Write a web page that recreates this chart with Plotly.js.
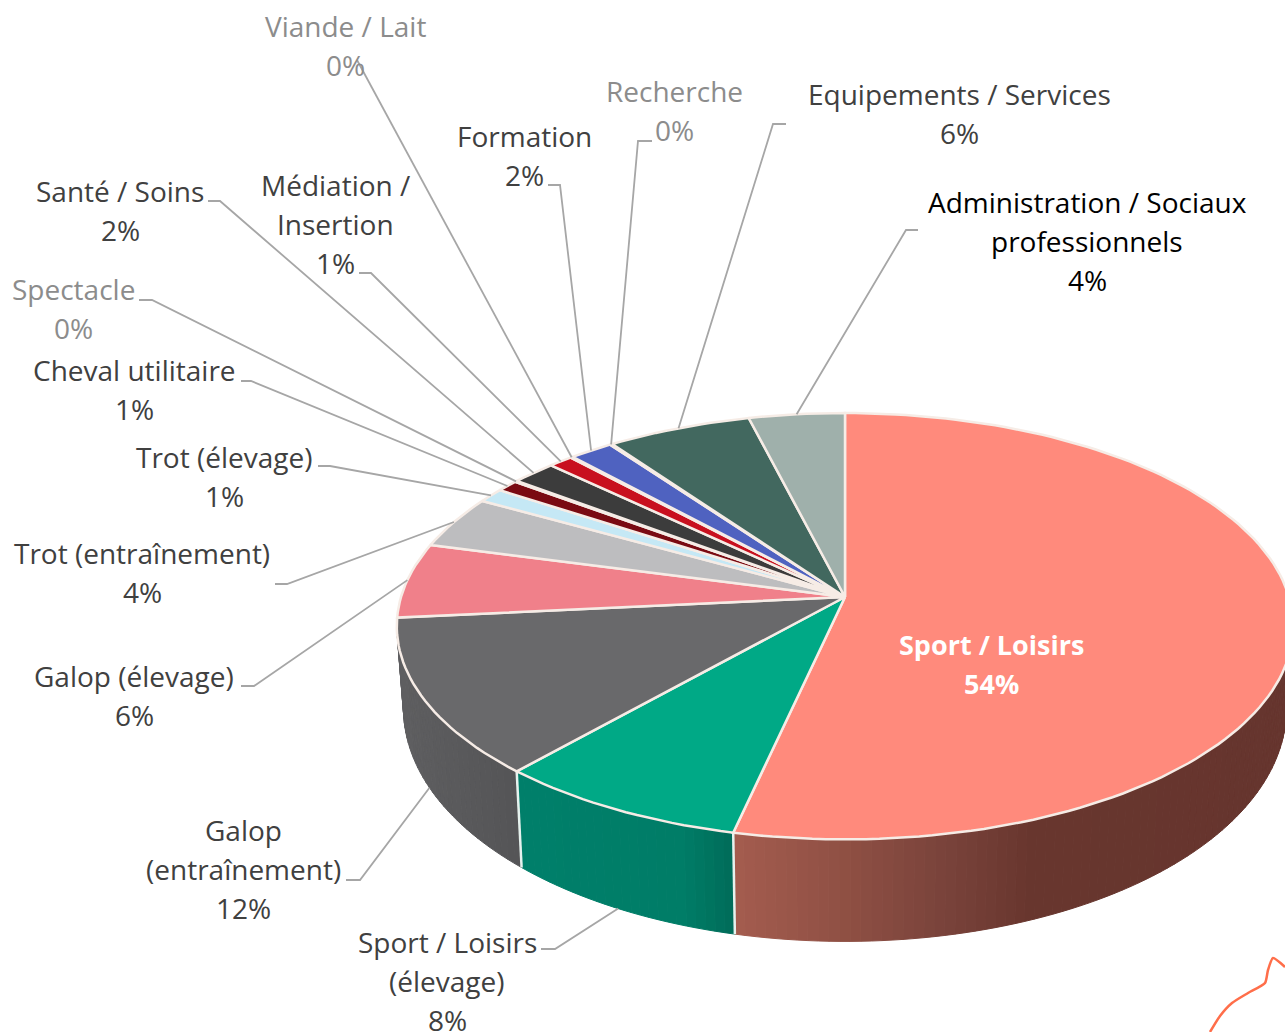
<!DOCTYPE html>
<html><head><meta charset="utf-8">
<script src="https://cdn.plot.ly/plotly-3.0.0.min.js"></script>
<style>html,body{margin:0;padding:0;background:#fff;overflow:hidden}#c{width:1285px;height:1032px}</style>
</head><body><div id="c"></div>
<script>
// ---- data (clockwise from 12 o'clock) ----
const categories = ["Sport / Loisirs","Sport / Loisirs (élevage)","Galop (entraînement)","Galop (élevage)","Trot (entraînement)","Trot (élevage)","Cheval utilitaire","Spectacle","Santé / Soins","Médiation / Insertion","Viande / Lait","Formation","Recherche","Equipements / Services","Administration / Sociaux professionnels"];
const values = [53.5,8.05,11.9,5.7,4.0,1.1,0.9,0.1,1.85,1.0,0.1,1.8,0.1,5.95,3.95];
const topColors = ["#ff8a7c","#00a986","#69696b","#f0808a","#bdbdbf","#c5e8f5","#7a0a12","#8c8c8c","#3c3c3c","#c8101e","#8c8c8c","#4f62c0","#8c8c8c","#42685f","#9fb0ab"];
const textColors = ["#ffffff","#404040","#404040","#404040","#404040","#404040","#404040","#8c8c8c","#404040","#404040","#8c8c8c","#404040","#8c8c8c","#404040","#000000"];
const wrappedNames = [["Sport / Loisirs"],["Sport / Loisirs","(élevage)"],["Galop","(entraînement)"],["Galop (élevage)"],["Trot (entraînement)"],["Trot (élevage)"],["Cheval utilitaire"],["Spectacle"],["Santé / Soins"],["Médiation /","Insertion"],["Viande / Lait"],["Formation"],["Recherche"],["Equipements / Services"],["Administration / Sociaux","professionnels"]];

// ---- layout settings (pixel-space axes) ----
const labelX = [991,447,243,134,142,224,134,73,120,335,345,524,674,959,1087];
const labelY = [644,942,830,676,553,457,370,289,191,185,26,136,91,94,202];
const labelStep = 39;
const leaderStart = [null,[541,949],[346,880],[241,686],[275,584],[318,466],[241,381],[139,300],[208,201],[359,273],[357,60],[548,185],[652,141],[786,124],[918,230]];
const leaderKnee  = [null,[555,949],[360,880],[254,686],[287,584],[330,466],[251,381],[152,300],[220,201],[371,273],null,[560,185],[638,141],[773,124],[906,230]];
const leaderOnSide = [false,true,true,false,false,false,false,false,false,false,false,false,false,false,false];
const sideStops = {
  0:[[735,"#a45c4e"],[850,"#8e4f43"],[950,"#78423a"],[1030,"#68362e"],[1285,"#66352e"]],
  1:[[523,"#007f6a"],[680,"#007d67"],[735,"#006b58"]],
  2:[[400,"#5e5e60"],[520,"#545456"]]
};
const accentCurve = {x:[1210,1220,1232,1248,1265,1268,1273,1285], y:[1032,1016,1003,993,983,970,958,967]};

// ---- geometry: projective disc ----
const cx=845, cy=597, a=209.2, k=0.137, b=444;
const rad=d=>d*Math.PI/180;
function topPt(deg){const u=Math.sin(rad(deg)),v=Math.cos(rad(deg));return [cx+b*u/(1+k*v),cy-a*v/(1+k*v)];}
function botPt(deg){const u=Math.sin(rad(deg)),v=Math.cos(rad(deg));
  return [cx+0.985*b*u/(1+k*v),cy-a*v/(1+k*v)+79-23*v];}
const total=values.reduce((s,x)=>s+x,0);
let run=0; const starts=[],ends=[];
values.forEach(v=>{starts.push(run/total*360);run+=v;ends.push(run/total*360);});
const hex=c=>[1,3,5].map(i=>parseInt(c.substr(i,2),16));
function mix(stops,x){
  if(x<=stops[0][0])return stops[0][1];
  for(let i=1;i<stops.length;i++){if(x<=stops[i][0]){
    const t=(x-stops[i-1][0])/(stops[i][0]-stops[i-1][0]),p=hex(stops[i-1][1]),q=hex(stops[i][1]);
    return "rgb("+p.map((c,j)=>Math.round(c+(q[j]-c)*t)).join(",")+")";}}
  return stops[stops.length-1][1];
}
const traces=[];
const base={type:"scatter",mode:"lines",hoverinfo:"skip",showlegend:false};
// sides
const aR=97.9,aL=262.1;
[0,1,2].forEach(i=>{
  const s=Math.max(starts[i],aR),e=Math.min(ends[i],aL),n=Math.ceil((e-s)/1.2);
  for(let j=0;j<n;j++){
    const d0=s+(e-s)*j/n,d1=s+(e-s)*(j+1)/n,xs=[],ys=[];
    for(let t=0;t<=2;t++){const p=topPt(d0+(d1-d0)*t/2);xs.push(p[0]);ys.push(p[1]);}
    for(let t=2;t>=0;t--){const p=botPt(d0+(d1-d0)*t/2);xs.push(p[0]);ys.push(p[1]);}
    xs.push(xs[0]);ys.push(ys[0]);
    const col=mix(sideStops[i],topPt((d0+d1)/2)[0]);
    traces.push({...base,x:xs,y:ys,fill:"toself",fillcolor:col,line:{color:col,width:1}});
  }
});
// side separators
[ends[0],ends[1]].forEach(d=>{const p=topPt(d),q=botPt(d);
  traces.push({...base,x:[p[0],q[0]],y:[p[1],q[1]],line:{color:"#e6f2ee",width:2.5}});});
// top slices
values.forEach((v,i)=>{
  const xs=[cx],ys=[cy],n=Math.max(2,Math.ceil((ends[i]-starts[i])/1.5));
  for(let t=0;t<=n;t++){const p=topPt(starts[i]+(ends[i]-starts[i])*t/n);xs.push(p[0]);ys.push(p[1]);}
  xs.push(cx);ys.push(cy);
  traces.push({...base,x:xs,y:ys,fill:"toself",fillcolor:topColors[i],line:{color:"#f6ece6",width:2.5}});
});
// leaders
values.forEach((v,i)=>{
  if(!leaderStart[i])return;
  const mid=(starts[i]+ends[i])/2,end=leaderOnSide[i]?botPt(mid):topPt(mid);
  const pts=[leaderStart[i]];if(leaderKnee[i])pts.push(leaderKnee[i]);pts.push(end);
  traces.push({...base,x:pts.map(p=>p[0]),y:pts.map(p=>p[1]),line:{color:"#a6a6a6",width:1.8}});
});
// accent curve at the page corner
traces.push({...base,x:accentCurve.x,y:accentCurve.y,line:{color:"#ff6e4a",width:2.5,shape:"spline",smoothing:0.6}});
// text
const annotations=[];
values.forEach((v,i)=>{
  const lines=wrappedNames[i].concat([Math.round(v)+"%"]);
  lines.forEach((t,j)=>annotations.push({x:labelX[i],y:labelY[i]+j*labelStep,xref:"x",yref:"y",text:t,showarrow:false,xanchor:"center",yanchor:"middle",
    font:{family:"'Open Sans',sans-serif",size:i===0?27:28,color:textColors[i],weight:i===0?700:400}}));
});
const layout={width:1285,height:1032,margin:{l:0,r:0,t:0,b:0},paper_bgcolor:"#fff",plot_bgcolor:"#fff",showlegend:false,
  xaxis:{range:[0,1285],visible:false,fixedrange:true},yaxis:{range:[1032,0],visible:false,fixedrange:true},annotations};
Plotly.newPlot("c",traces,layout,{displayModeBar:false,staticPlot:true});
</script></body></html>
